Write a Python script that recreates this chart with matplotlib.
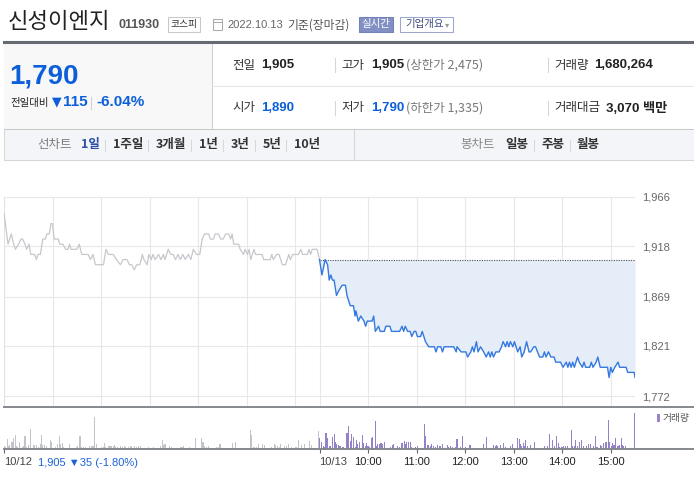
import matplotlib
matplotlib.use("Agg")
import matplotlib.pyplot as plt
from matplotlib.lines import Line2D
from matplotlib.patches import Rectangle

# 10/12 intraday (minutes after 09:00, price)
day1_ticks = [(0, 1950), (5, 1920), (9, 1930), (12, 1920), (14, 1915), (18, 1920), (21, 1925),
              (23, 1925), (26, 1920), (28, 1915), (31, 1920), (33, 1910), (38, 1910), (40, 1905),
              (42, 1910), (45, 1910), (48, 1925), (51, 1925), (53, 1930), (56, 1930), (58, 1940),
              (60, 1940), (62, 1925), (67, 1925), (69, 1920), (73, 1920), (76, 1915), (79, 1915),
              (81, 1920), (83, 1915), (90, 1915), (93, 1920), (96, 1910), (104, 1910), (107, 1905),
              (110, 1910), (113, 1900), (123, 1900), (126, 1915), (129, 1910), (135, 1910),
              (139, 1905), (144, 1900), (147, 1905), (152, 1905), (155, 1900), (158, 1900),
              (161, 1895), (164, 1900), (168, 1900), (171, 1910), (173, 1905), (177, 1900),
              (179, 1910), (182, 1905), (184, 1910), (187, 1905), (191, 1910), (194, 1905),
              (197, 1910), (199, 1905), (203, 1915), (206, 1910), (209, 1910), (212, 1905),
              (215, 1910), (218, 1905), (221, 1910), (224, 1905), (228, 1910), (231, 1905),
              (234, 1915), (238, 1910), (242, 1910), (245, 1925), (248, 1930), (253, 1930),
              (255, 1925), (259, 1925), (261, 1930), (265, 1930), (268, 1925), (271, 1925),
              (274, 1930), (278, 1930), (280, 1925), (282, 1930), (284, 1920), (290, 1920),
              (292, 1915), (296, 1910), (298, 1915), (301, 1910), (303, 1915), (305, 1905),
              (309, 1915), (311, 1910), (319, 1910), (321, 1905), (329, 1905), (331, 1910),
              (333, 1905), (337, 1910), (340, 1910), (344, 1900), (348, 1900), (352, 1910),
              (354, 1905), (357, 1910), (364, 1910), (367, 1915), (369, 1910), (375, 1910),
              (377, 1915), (379, 1910), (381, 1915), (387, 1915), (390, 1905)]

# 10/13 intraday
day2_ticks = [(0, 1905), (1, 1900), (3, 1890), (7, 1905), (10, 1900), (12, 1885), (14, 1890),
              (16, 1885), (18, 1885), (21, 1870), (24, 1875), (28, 1880), (32, 1880), (34, 1870),
              (38, 1860), (42, 1860), (44, 1850), (45, 1855), (48, 1845), (51, 1850), (55, 1845),
              (57, 1840), (59, 1845), (65, 1845), (67, 1850), (69, 1835), (73, 1840), (75, 1835),
              (80, 1835), (82, 1840), (87, 1840), (89, 1835), (99, 1835), (102, 1840), (104, 1835),
              (106, 1840), (109, 1835), (112, 1835), (114, 1830), (117, 1835), (119, 1835),
              (121, 1830), (125, 1830), (127, 1835), (131, 1825), (135, 1820), (142, 1820),
              (144, 1815), (146, 1820), (150, 1820), (152, 1815), (154, 1820), (166, 1820),
              (169, 1815), (170, 1820), (175, 1815), (181, 1815), (183, 1810), (187, 1815),
              (189, 1820), (191, 1815), (194, 1825), (196, 1815), (199, 1820), (203, 1815),
              (206, 1810), (209, 1815), (211, 1810), (213, 1815), (215, 1810), (218, 1815),
              (222, 1815), (225, 1820), (227, 1825), (230, 1820), (232, 1825), (234, 1820),
              (236, 1825), (239, 1820), (241, 1825), (243, 1820), (245, 1815), (248, 1820),
              (250, 1810), (253, 1815), (256, 1825), (259, 1815), (261, 1815), (265, 1820),
              (267, 1820), (272, 1810), (276, 1810), (278, 1815), (280, 1810), (283, 1815),
              (286, 1810), (290, 1810), (292, 1805), (298, 1805), (301, 1800), (305, 1805),
              (307, 1800), (309, 1805), (311, 1800), (313, 1805), (315, 1800), (317, 1805),
              (319, 1810), (321, 1805), (325, 1800), (327, 1805), (329, 1800), (334, 1800),
              (336, 1805), (338, 1800), (342, 1805), (344, 1810), (347, 1800), (356, 1800),
              (358, 1790), (360, 1800), (362, 1795), (365, 1800), (369, 1805), (371, 1800),
              (379, 1800), (381, 1795), (389, 1795), (390, 1790)]

# volume (relative units)
day1_vol = [(0, 10), (2, 7), (4, 30), (6, 10), (7, 12), (9, 20), (11, 22), (12, 34), (14, 42),
            (16, 10), (17, 7), (19, 22), (21, 4), (23, 6), (24, 8), (26, 40), (28, 7), (30, 12),
            (33, 60), (34, 4), (36, 12), (38, 12), (40, 12), (41, 4), (43, 5), (45, 16), (46, 42),
            (47, 12), (50, 12), (52, 8), (53, 7), (55, 4), (58, 27), (59, 22), (62, 4), (64, 7),
            (66, 16), (69, 39), (70, 14), (72, 18), (73, 6), (76, 4), (78, 4), (81, 16), (83, 4),
            (85, 4), (87, 4), (90, 6), (91, 8), (94, 39), (96, 6), (98, 6), (101, 6), (103, 4),
            (106, 10), (108, 10), (110, 8), (112, 95), (114, 14), (117, 4), (119, 4), (121, 6),
            (123, 6), (124, 18), (126, 6), (129, 8), (131, 8), (133, 8), (135, 8), (137, 12),
            (138, 6), (140, 6), (142, 4), (144, 8), (146, 6), (149, 8), (150, 6), (152, 4),
            (154, 6), (156, 8), (158, 8), (161, 8), (163, 4), (164, 6), (166, 8), (169, 8),
            (170, 4), (174, 4), (176, 4), (179, 6), (181, 4), (185, 5), (186, 4), (194, 8),
            (196, 27), (197, 12), (199, 14), (202, 4), (205, 8), (207, 6), (208, 4), (211, 2),
            (216, 4), (218, 6), (220, 6), (222, 8), (225, 4), (229, 6), (230, 4), (237, 33),
            (239, 4), (242, 4), (244, 32), (246, 22), (248, 10), (250, 6), (253, 8), (255, 4),
            (258, 4), (259, 4), (261, 4), (263, 6), (265, 6), (267, 14), (270, 4), (273, 4),
            (276, 4), (278, 4), (280, 4), (282, 18), (284, 4), (286, 22), (288, 4), (291, 4),
            (292, 4), (303, 4), (305, 58), (306, 42), (308, 6), (310, 6), (312, 6), (315, 14),
            (317, 4), (319, 15), (322, 12), (324, 4), (326, 4), (328, 4), (331, 6), (334, 16),
            (336, 12), (338, 8), (341, 6), (342, 14), (345, 4), (347, 8), (349, 8), (352, 14),
            (353, 4), (355, 6), (357, 4), (359, 4), (361, 6), (364, 27), (366, 4), (368, 12),
            (371, 16), (373, 4), (376, 4), (378, 24), (380, 12), (389, 54)]

day2_vol = [(0, 32), (3, 20), (5, 8), (6, 6), (8, 48), (10, 34), (12, 10), (14, 10), (16, 36),
            (18, 44), (20, 20), (21, 14), (23, 12), (25, 8), (26, 8), (29, 6), (31, 4), (33, 20),
            (34, 48), (36, 68), (38, 24), (40, 44), (42, 36), (44, 6), (46, 28), (47, 16), (49, 20),
            (51, 4), (53, 42), (54, 18), (57, 10), (58, 18), (60, 10), (62, 6), (64, 32), (66, 36),
            (69, 84), (70, 8), (72, 16), (74, 16), (76, 18), (78, 16), (80, 22), (82, 4), (84, 4),
            (86, 4), (88, 6), (90, 12), (92, 16), (94, 4), (96, 8), (97, 4), (99, 6), (102, 18),
            (103, 8), (105, 24), (106, 14), (108, 20), (110, 20), (112, 20), (114, 6), (116, 4),
            (117, 4), (119, 6), (121, 8), (123, 4), (125, 4), (127, 4), (129, 4), (130, 74),
            (131, 38), (134, 12), (135, 12), (137, 8), (139, 14), (141, 10), (143, 6), (144, 4),
            (146, 12), (148, 8), (150, 10), (152, 14), (154, 4), (156, 4), (158, 12), (160, 6),
            (162, 8), (164, 6), (166, 4), (168, 6), (170, 30), (172, 4), (174, 6), (176, 4),
            (177, 38), (180, 6), (182, 4), (184, 4), (186, 12), (187, 12), (189, 4), (191, 4),
            (194, 4), (196, 4), (197, 4), (201, 4), (203, 14), (204, 4), (206, 36), (208, 4),
            (210, 4), (212, 4), (213, 4), (215, 12), (217, 8), (219, 12), (220, 8), (222, 4),
            (224, 12), (227, 18), (229, 4), (230, 6), (232, 4), (234, 4), (236, 8), (239, 16),
            (240, 4), (243, 4), (245, 34), (247, 30), (249, 14), (250, 10), (252, 18), (254, 8),
            (255, 28), (257, 8), (259, 4), (261, 12), (262, 4), (265, 4), (266, 22), (268, 4),
            (270, 4), (272, 4), (274, 4), (276, 4), (278, 8), (280, 4), (282, 8), (284, 44),
            (286, 4), (288, 28), (290, 6), (291, 8), (293, 38), (295, 18), (297, 6), (299, 6),
            (300, 6), (302, 8), (304, 8), (306, 8), (308, 4), (311, 58), (313, 8), (315, 8),
            (317, 28), (319, 10), (321, 20), (322, 4), (324, 28), (326, 8), (328, 4), (330, 10),
            (332, 14), (333, 8), (335, 14), (337, 4), (339, 8), (341, 38), (343, 6), (345, 4),
            (347, 12), (349, 8), (351, 18), (353, 22), (355, 22), (357, 88), (359, 22), (361, 8),
            (362, 18), (364, 12), (366, 32), (369, 10), (371, 12), (373, 34), (374, 12), (376, 8),
            (378, 8), (380, 4), (389, 108)]

prev_close = 1905
price_ticks = [1772, 1821, 1869, 1918, 1966]
time_ticks = ["10/12", "10/13", "10:00", "11:00", "12:00", "13:00", "14:00", "15:00"]
DAY = 390

W, H = 694, 480
KR = ["Noto Sans CJK KR", "DejaVu Sans"]
NUM = ["Liberation Sans", "Noto Sans CJK KR", "DejaVu Sans"]
plt.rcParams["font.family"] = KR

fig = plt.figure(figsize=(W / 100, H / 100), dpi=100)
fig.patch.set_facecolor("white")


def put(x, y, s, size=9, color="#333", weight="normal", ha="left", fam=KR):
    fig.text(x / W, 1 - y / H, s, fontsize=size, color=color, fontweight=weight,
             ha=ha, va="center", family=fam)


def hline(y, x0, x1, color, lw=0.75, ls="-"):
    fig.add_artist(Line2D([x0 / W, x1 / W], [1 - y / H] * 2, color=color, lw=lw, ls=ls))


def vline(x, y0, y1, color, lw=0.75):
    fig.add_artist(Line2D([x / W] * 2, [1 - y0 / H, 1 - y1 / H], color=color, lw=lw))


def box(x0, y0, x1, y1, fc, ec="none", lw=0.75):
    fig.add_artist(Rectangle((x0 / W, 1 - y1 / H), (x1 - x0) / W, (y1 - y0) / H,
                             facecolor=fc, edgecolor=ec, lw=lw))


# ---- header ----
put(8, 22, "신성이엔지", size=16, color="#222")
put(118, 25, "011930", size=9, color="#555", weight="bold", fam=NUM)
box(168, 17, 200, 32, "white", "#c8c8c8")
put(184, 24.5, "코스피", size=7, color="#333", ha="center")
box(213, 19, 222, 30, "white", "#aaa")
hline(22, 213, 222, "#aaa")
put(227, 25, "2022.10.13", size=8, color="#666", fam=NUM)
put(287, 25, "기준(장마감)", size=8.5, color="#555")
box(359, 17, 393, 32, "#8290c4", "#7282b8")
put(376, 24.5, "실시간", size=7.5, color="white", ha="center")
box(400, 17, 453, 32, "white", "#9ba7cf")
put(405, 24.5, "기업개요", size=7.5, color="#3b4a7c")
put(447, 24.5, "▾", size=6, color="#999", ha="center", fam=["DejaVu Sans"])
hline(42, 4, 694, "#666a73", lw=2.2)

# ---- price info ----
box(4, 43.5, 212, 129, "#f8f8f9")
vline(212, 43.5, 129, "#cfcfcf")
hline(86, 212, 694, "#e6e6e6")
hline(129, 4, 694, "#c8c8c8")

BLUE = "#0c5fd8"
put(9, 76, "1,790", size=20, color=BLUE, weight="bold", fam=NUM)
put(10, 103, "전일대비", size=7.5, color="#222")
put(57, 102, "▼", size=9, color=BLUE, ha="center", fam=["DejaVu Sans"])
put(63, 102, "115", size=11, color=BLUE, weight="bold", fam=NUM)
vline(91, 97, 109, "#d0d0d0")
put(96, 102, "-6.04%", size=11, color=BLUE, weight="bold", fam=NUM)

for y, items in [(65, [("전일", "1,905", "#222", None), ("고가", "1,905", "#222", "(상한가 2,475)"),
                       ("거래량", "1,680,264", "#222", None)]),
                 (108, [("시가", "1,890", BLUE, None), ("저가", "1,790", BLUE, "(하한가 1,335)"),
                        ("거래대금", "3,070 백만", "#222", None)])]:
    for (lab, val, col, extra), lx, vx in zip(items, [232, 341, 554], [261, 371, 594 if y == 65 else 606]):
        put(lx, y, lab, size=9, color="#333")
        put(vx, y, val, size=9.5, color=col, weight="bold", fam=NUM)
        if extra:
            put(406, y, extra, size=9, color="#777")
    vline(335, y - 7, y + 7, "#d5d5d5")
    vline(548, y - 7, y + 7, "#d5d5d5")

# ---- chart tabs ----
box(4, 129.5, 694, 160, "#f4f5f8")
hline(160, 4, 694, "#d6d6d6")
vline(4, 129.5, 160, "#d6d6d6")
vline(354, 129.5, 160, "#d6d6d6")
put(37, 145, "선차트", size=9, color="#7a7a7a")
put(81, 145, "1일", size=9, color="#2b4fa3", weight="bold")
for x, lab in [(113, "1주일"), (156, "3개월"), (199, "1년"), (231, "3년"), (263, "5년"), (294, "10년")]:
    vline(x - 8, 140, 151, "#d8d8d8")
    put(x, 145, lab, size=9, color="#333", weight="bold")
put(460, 145, "봉차트", size=9, color="#888")
put(505, 145, "일봉", size=9, color="#333", weight="bold")
vline(534, 140, 151, "#d8d8d8")
put(541, 145, "주봉", size=9, color="#333", weight="bold")
vline(570, 140, 151, "#d8d8d8")
put(577, 145, "월봉", size=9, color="#333", weight="bold")

# ---- price chart ----
ax = fig.add_axes([4 / W, 1 - 407 / H, 631 / W, 210 / H])
ax.set_xlim(0, 2 * DAY)
ax.set_ylim(1966 - 210 / 1.0258, 1966)
for s in ax.spines.values():
    s.set_visible(False)
ax.set_facecolor("none")
for v in price_ticks:
    ax.axhline(v, color="#e8e8e8", lw=0.8, zorder=0)
for m in list(range(60, DAY, 60)) + list(range(DAY, 2 * DAY, 60)):
    ax.axvline(m, color="#e8e8e8", lw=0.8, zorder=0)
ax.axvline(0, color="#e2e2e2", lw=0.8, zorder=0)

t1 = [t for t, p in day1_ticks]
p1 = [p for t, p in day1_ticks]
t2 = [DAY + t for t, p in day2_ticks]
p2 = [p for t, p in day2_ticks]
ax.fill_between(t2, p2, prev_close, color="#e5edf9", lw=0, zorder=1)
ax.hlines(prev_close, DAY, 2 * DAY, colors="#555", linestyles=(0, (1, 1.2)), lw=0.8, zorder=2)
ax.plot(t1, p1, color="#c7c7cd", lw=0.9, zorder=3)
ax.plot(t2, p2, color="#3479e0", lw=1.0, zorder=4)

ax.yaxis.tick_right()
ax.set_yticks(price_ticks)
ax.set_yticklabels([f"{v:,}" for v in price_ticks], family=NUM)
ax.tick_params(axis="y", length=0, pad=5, labelsize=8, labelcolor="#666")
ax.set_xticks([])

hline(407, 4, 694, "#85888d", lw=1.4)

# ---- volume ----
vax = fig.add_axes([4 / W, 1 - 449 / H, 631 / W, 42 / H])
vax.set_xlim(0, 2 * DAY)
vax.set_ylim(0, 126)
for s in vax.spines.values():
    s.set_visible(False)
vax.set_facecolor("none")
vax.bar([t for t, v in day1_vol], [v for t, v in day1_vol], width=1.35, color="#c3c3ca", lw=0)
vax.bar([DAY + t for t, v in day2_vol], [v for t, v in day2_vol], width=1.35, color="#9482c6", lw=0)
vax.set_yticks([])
vax.set_xticks([0, DAY] + list(range(DAY + 60, 2 * DAY, 60)))
vax.set_xticklabels(time_ticks, family=NUM)
vax.tick_params(axis="x", length=3, width=0.8, color="#666", pad=3, labelsize=8, labelcolor="#222")
for lab in vax.get_xticklabels()[:2]:
    lab.set_ha("left")
    lab.set_color("#444")
hline(449, 4, 694, "#85888d", lw=1.4)

put(38, 462.5, "1,905 ▼35 (-1.80%)", size=8, color="#1a62d6", fam=NUM)
box(657, 414, 660, 422, "#9886c8")
put(663, 418, "거래량", size=7, color="#555")

fig.savefig("out.png", dpi=100)
